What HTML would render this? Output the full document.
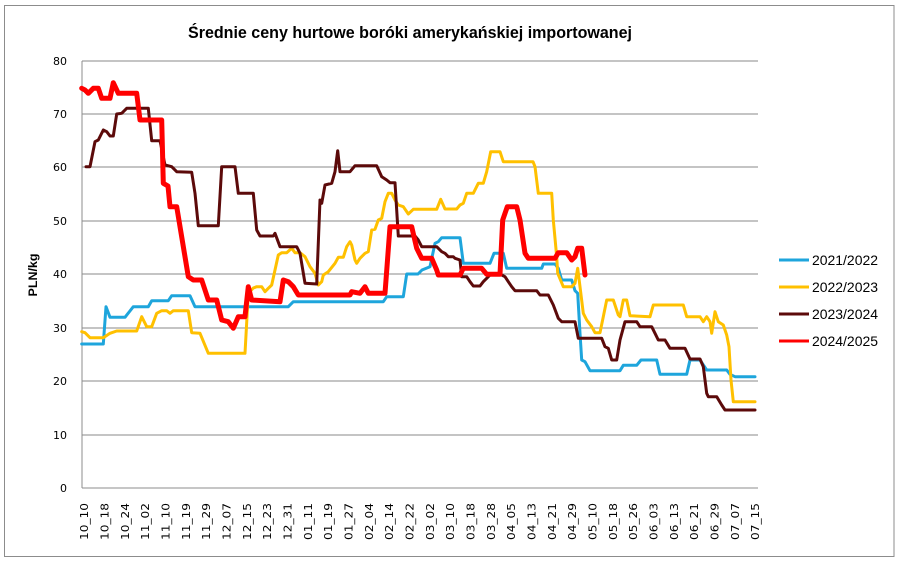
<!DOCTYPE html>
<html>
<head>
<meta charset="utf-8">
<style>
  html, body { margin: 0; padding: 0; background: #ffffff; }
  svg { display: block; }
</style>
</head>
<body>
<svg width="900" height="563" viewBox="0 0 900 563" xmlns="http://www.w3.org/2000/svg">
  <rect x="0" y="0" width="900" height="563" fill="#ffffff"/>
  <!-- chart border -->
  <rect x="4.5" y="5.5" width="889.5" height="551" fill="#ffffff" stroke="#8c8c8c" stroke-width="1"/>

  <!-- title -->
  <text x="410" y="38" text-anchor="middle" font-family="'Liberation Sans', sans-serif" font-weight="bold" font-size="16.5" textLength="444" lengthAdjust="spacingAndGlyphs" fill="#000">Średnie ceny hurtowe boróki amerykańskiej importowanej</text>

  <!-- gridlines -->
  <g stroke="#888888" stroke-width="1" shape-rendering="crispEdges">
    <line x1="82" y1="61" x2="758" y2="61"/>
    <line x1="82" y1="114" x2="758" y2="114"/>
    <line x1="82" y1="167" x2="758" y2="167"/>
    <line x1="82" y1="221" x2="758" y2="221"/>
    <line x1="82" y1="274" x2="758" y2="274"/>
    <line x1="82" y1="328" x2="758" y2="328"/>
    <line x1="82" y1="381" x2="758" y2="381"/>
    <line x1="82" y1="435" x2="758" y2="435"/>
  </g>
  <!-- axes -->
  <g stroke="#8c8c8c" stroke-width="1.3" shape-rendering="crispEdges">
    <line x1="82" y1="61" x2="82" y2="488"/>
    <line x1="82" y1="488" x2="758" y2="488"/>
  </g>

  <!-- y tick labels -->
  <g font-family="'DejaVu Sans', 'Liberation Sans', sans-serif" font-size="11" fill="#000" text-anchor="end">
    <text x="67" y="65">80</text>
    <text x="67" y="118">70</text>
    <text x="67" y="171">60</text>
    <text x="67" y="225">50</text>
    <text x="67" y="278">40</text>
    <text x="67" y="332">30</text>
    <text x="67" y="385">20</text>
    <text x="67" y="439">10</text>
    <text x="67" y="492">0</text>
  </g>

  <!-- y axis title -->
  <text transform="translate(37,275) rotate(-90)" text-anchor="middle" font-family="'Liberation Sans', sans-serif" font-weight="bold" font-size="12" textLength="43" lengthAdjust="spacingAndGlyphs" fill="#000">PLN/kg</text>

  <!-- x tick labels -->
  <g font-family="'DejaVu Sans', 'Liberation Sans', sans-serif" font-size="11" fill="#000" text-anchor="end" dominant-baseline="central">
    <text transform="translate(84.7,503) rotate(-90)" textLength="37" lengthAdjust="spacingAndGlyphs">10_10</text>
    <text transform="translate(105.0,503) rotate(-90)" textLength="37" lengthAdjust="spacingAndGlyphs">10_18</text>
    <text transform="translate(125.4,503) rotate(-90)" textLength="37" lengthAdjust="spacingAndGlyphs">10_24</text>
    <text transform="translate(145.7,503) rotate(-90)" textLength="37" lengthAdjust="spacingAndGlyphs">11_02</text>
    <text transform="translate(166.0,503) rotate(-90)" textLength="37" lengthAdjust="spacingAndGlyphs">11_10</text>
    <text transform="translate(186.4,503) rotate(-90)" textLength="37" lengthAdjust="spacingAndGlyphs">11_19</text>
    <text transform="translate(206.7,503) rotate(-90)" textLength="37" lengthAdjust="spacingAndGlyphs">11_29</text>
    <text transform="translate(227.0,503) rotate(-90)" textLength="37" lengthAdjust="spacingAndGlyphs">12_07</text>
    <text transform="translate(247.3,503) rotate(-90)" textLength="37" lengthAdjust="spacingAndGlyphs">12_15</text>
    <text transform="translate(267.7,503) rotate(-90)" textLength="37" lengthAdjust="spacingAndGlyphs">12_23</text>
    <text transform="translate(288.0,503) rotate(-90)" textLength="37" lengthAdjust="spacingAndGlyphs">12_31</text>
    <text transform="translate(308.3,503) rotate(-90)" textLength="37" lengthAdjust="spacingAndGlyphs">01_11</text>
    <text transform="translate(328.7,503) rotate(-90)" textLength="37" lengthAdjust="spacingAndGlyphs">01_19</text>
    <text transform="translate(349.0,503) rotate(-90)" textLength="37" lengthAdjust="spacingAndGlyphs">01_27</text>
    <text transform="translate(369.3,503) rotate(-90)" textLength="37" lengthAdjust="spacingAndGlyphs">02_04</text>
    <text transform="translate(389.7,503) rotate(-90)" textLength="37" lengthAdjust="spacingAndGlyphs">02_14</text>
    <text transform="translate(410.0,503) rotate(-90)" textLength="37" lengthAdjust="spacingAndGlyphs">02_22</text>
    <text transform="translate(430.3,503) rotate(-90)" textLength="37" lengthAdjust="spacingAndGlyphs">03_02</text>
    <text transform="translate(450.7,503) rotate(-90)" textLength="37" lengthAdjust="spacingAndGlyphs">03_10</text>
    <text transform="translate(471.0,503) rotate(-90)" textLength="37" lengthAdjust="spacingAndGlyphs">03_18</text>
    <text transform="translate(491.3,503) rotate(-90)" textLength="37" lengthAdjust="spacingAndGlyphs">03_28</text>
    <text transform="translate(511.7,503) rotate(-90)" textLength="37" lengthAdjust="spacingAndGlyphs">04_05</text>
    <text transform="translate(532.0,503) rotate(-90)" textLength="37" lengthAdjust="spacingAndGlyphs">04_13</text>
    <text transform="translate(552.3,503) rotate(-90)" textLength="37" lengthAdjust="spacingAndGlyphs">04_21</text>
    <text transform="translate(572.7,503) rotate(-90)" textLength="37" lengthAdjust="spacingAndGlyphs">04_29</text>
    <text transform="translate(593.0,503) rotate(-90)" textLength="37" lengthAdjust="spacingAndGlyphs">05_10</text>
    <text transform="translate(613.3,503) rotate(-90)" textLength="37" lengthAdjust="spacingAndGlyphs">05_18</text>
    <text transform="translate(633.7,503) rotate(-90)" textLength="37" lengthAdjust="spacingAndGlyphs">05_26</text>
    <text transform="translate(654.0,503) rotate(-90)" textLength="37" lengthAdjust="spacingAndGlyphs">06_03</text>
    <text transform="translate(674.3,503) rotate(-90)" textLength="37" lengthAdjust="spacingAndGlyphs">06_13</text>
    <text transform="translate(694.7,503) rotate(-90)" textLength="37" lengthAdjust="spacingAndGlyphs">06_21</text>
    <text transform="translate(715.0,503) rotate(-90)" textLength="37" lengthAdjust="spacingAndGlyphs">06_29</text>
    <text transform="translate(735.3,503) rotate(-90)" textLength="37" lengthAdjust="spacingAndGlyphs">07_07</text>
    <text transform="translate(755.7,503) rotate(-90)" textLength="37" lengthAdjust="spacingAndGlyphs">07_15</text>
  </g>

  <!-- series -->
  <g fill="none" stroke-linejoin="round" stroke-linecap="round">
    <!-- 2021/2022 blue -->
    <polyline stroke="#1ea5dc" stroke-width="3" points="81.7,344 103.3,344 106,306.7 110,317.3 125,317.3 133.3,306.7 148.3,306.7 151.7,300.7 168.3,300.7 171.7,295.7 190,295.7 195,306.7 288.3,306.7 293.3,301.7 383.3,301.7 386.7,296.7 403.3,296.7 406.7,274 418,274 422,270 430,266.7 435,243.3 438.3,241.7 441.7,237.7 460,237.7 463.3,263.3 490,263.3 494,253.3 503.3,253.3 506.7,268.3 541.7,268.3 543.3,264 555,264 558.3,268.3 561.7,280 571.7,280 575,290.7 577.7,293.3 580,333.3 581.7,360 585,361.7 590,370.7 620,370.7 623.3,365.3 636.7,365.3 641,360 656.7,360 660,374.3 686.7,374.3 690,360 700,360 706.7,370 726.7,370 730,374.3 735,376.7 755,376.7"/>
    <!-- 2022/2023 yellow -->
    <polyline stroke="#ffc000" stroke-width="3" points="81.7,331.7 85,332.7 90,337.7 103.3,337.7 110,333.3 116.7,331 136.7,331 141.7,316.7 146.7,326.7 151.7,326.7 156.7,313.3 161.7,310.7 166.7,310.7 170,313.3 173.3,310.7 188.3,310.7 191.7,332.7 200,333.3 208.3,353.3 245,353.3 248.3,293.3 253.3,288 256.7,286.7 261.7,286.7 265,291.7 268.3,288.3 271.7,285 275,270 278.3,255 281.7,252.7 286.7,252.7 291.7,248.3 295,252.7 300,252.7 305,256.7 310,266.7 315,273.3 318.3,285 321.7,281.7 323.3,275 328.3,271.7 335,263.3 338.3,257.3 343.3,257.3 346.7,246.7 350,241.7 351.7,245 355,260 356.7,263.3 360,258.3 365,253.3 368.3,251.7 371.7,230 375,229.3 378.3,220 381.7,218.3 385,201.7 388.3,193.3 391.7,193.3 395,200 398.3,205 403.3,206.7 408.3,214 413.3,209.3 436.7,209.3 440.7,199.3 445,209 456.7,209 460,205 463.3,203.3 466.7,193.3 473.3,193.3 478.3,183.3 483.3,183.3 486.7,171.7 490.7,151.7 500,151.7 503.3,161.7 533,161.7 535,166.7 538.3,193.3 551.7,193.3 553.3,220 556.7,256.7 557.7,273.3 563.3,286.7 571.7,286.7 575,283.3 577.7,268.3 580,286.7 583.3,313.3 586.7,320 591.7,326.7 595,332.7 600,332.7 603.3,316.7 606.7,300 613.3,300 618.3,315 620,316.7 623.3,300 626.7,300 630,315.7 650,316.7 653.3,305 683.3,305 686.7,316.7 700,316.7 703.3,321.7 706.7,316.7 710,321.7 711.7,333.3 715,311.7 718.3,321.7 723.3,325 726.7,335 729,346.7 731,380 733.3,401.7 755,401.7"/>
    <!-- 2023/2024 dark brown -->
    <polyline stroke="#5c0a0a" stroke-width="3" points="86,166.7 90,166.7 95,141.7 98.3,140 103.3,130 106.7,131.7 110,136 113.3,136 116.7,114 121.7,113.3 126.7,108.3 148.3,108.3 151.7,140.7 160,140.7 165,165 171.7,166.7 176.7,171.7 191.7,172.3 195,193.3 198.3,225.7 218.3,225.7 221.7,166.7 235,166.7 238.3,193.3 253.3,193.3 256.7,230 260,236 273.3,236 275,233.3 280,246.7 296.7,246.7 300,253.3 305,283.3 316.7,284 320,200 321.7,203.3 325,185 331.7,183.3 335,171.7 337.7,150.7 340,171.7 350,171.7 355,165.7 376.7,165.7 381.7,176.7 386.7,180 390,182.7 395,182.7 398.3,236 415,236 418.3,240 421.7,246.7 436.7,246.7 441.7,251.7 445,253.3 448.3,256.7 453.3,256.7 455,258.3 460,260 461.7,276.7 466.7,276.7 470,281.7 473.3,286 480,286 483.3,281.7 486.7,278.3 490,275 501.7,275 505,276.7 508.3,281.7 511.7,286.7 515,290.7 536.7,290.7 540,295 548.3,295 553.3,305 558.3,318.3 561.7,321.7 575,321.7 578.3,338.3 601.7,338.3 605,346.7 608.3,348.3 611.7,360 616.7,360 620,340 625,321.7 636.7,321.7 640,326.7 651.7,326.7 655,333.3 658.3,340 665,340 670,348.3 685,348.3 690,359 700,359 703.3,366.7 706.7,393.3 708.3,396.7 716.7,396.7 721.7,405 725,410 755,410"/>
    <!-- 2024/2025 red -->
    <polyline stroke="#ff0000" stroke-width="5" points="81.7,88.3 85,90 88.3,93.3 93.3,88.3 98.3,88.3 101.7,98.3 110,98.3 113.3,82.7 118.3,93.3 136.7,93.3 140,120 161.7,120 163.3,183.3 168,186 170,206.7 176.7,206.7 188.3,276.7 193.3,280 201.7,280 208.3,300 216.7,300 221.7,320 228.3,321.7 233.3,328.3 238.3,316.7 245,316.7 248.3,286.7 251.7,300 280,301.7 283.3,280 288.3,281.7 293.3,286.7 298.3,295 350,295 351.7,291.7 360,293.3 365,286.7 368.3,293.3 385,293.3 390,226.7 411.7,226.7 416.7,248.3 421.7,258.3 431.7,258.3 436.7,270 438.3,275 460,275 463.3,268.3 481.7,268.3 486.7,274.3 500,274.3 502.7,220 507.3,206.7 516.7,206.7 520,220 525,253.3 528.3,258.3 555,258.3 558.3,252.7 566.7,252.7 571.7,260 575,256.7 577.7,248.3 581.7,248.3 585,275"/>
  </g>

  <!-- legend -->
  <g stroke-width="3">
    <line x1="779" y1="260" x2="809" y2="260" stroke="#1ea5dc"/>
    <line x1="779" y1="287" x2="809" y2="287" stroke="#ffc000"/>
    <line x1="779" y1="314" x2="809" y2="314" stroke="#5c0a0a"/>
    <line x1="779" y1="341" x2="809" y2="341" stroke="#ff0000"/>
  </g>
  <g font-family="'Liberation Sans', sans-serif" font-size="13.5" fill="#000">
    <text x="812" y="265" textLength="66" lengthAdjust="spacingAndGlyphs">2021/2022</text>
    <text x="812" y="292" textLength="66" lengthAdjust="spacingAndGlyphs">2022/2023</text>
    <text x="812" y="319" textLength="66" lengthAdjust="spacingAndGlyphs">2023/2024</text>
    <text x="812" y="346" textLength="66" lengthAdjust="spacingAndGlyphs">2024/2025</text>
  </g>
</svg>
</body>
</html>
